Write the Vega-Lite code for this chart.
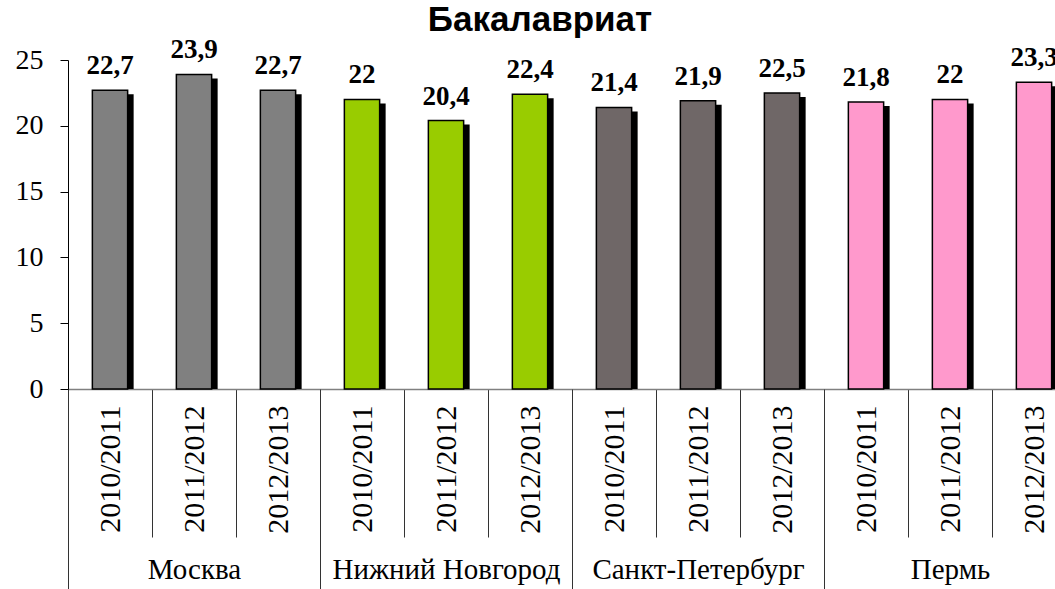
{
  "$schema": "https://vega.github.io/schema/vega-lite/v6.json",
  "autosize": {"type": "none"},
  "padding": {"left": 68, "top": 60, "right": 0, "bottom": 200},
  "width": 1008,
  "height": 329,
  "background": "white",
  "title": {"text": "Бакалавриат", "font": "Liberation Sans", "fontSize": 35, "fontWeight": "bold", "color": "black", "anchor": "middle", "frame": "group", "dx": -32, "dy": 36, "baseline": "alphabetic", "offset": 6},
  "config": {
    "view": {"stroke": null},
    "locale": {"number": {"decimal": ",", "thousands": " ", "grouping": [3], "currency": ["", ""]}}
  },
  "datasets": {
    "bars": [
      {"city": "Москва", "year": "2010/2011", "key": "Москва|2010/2011", "value": 22.7},
      {"city": "Москва", "year": "2011/2012", "key": "Москва|2011/2012", "value": 23.9},
      {"city": "Москва", "year": "2012/2013", "key": "Москва|2012/2013", "value": 22.7},
      {"city": "Нижний Новгород", "year": "2010/2011", "key": "Нижний Новгород|2010/2011", "value": 22},
      {"city": "Нижний Новгород", "year": "2011/2012", "key": "Нижний Новгород|2011/2012", "value": 20.4},
      {"city": "Нижний Новгород", "year": "2012/2013", "key": "Нижний Новгород|2012/2013", "value": 22.4},
      {"city": "Санкт-Петербург", "year": "2010/2011", "key": "Санкт-Петербург|2010/2011", "value": 21.4},
      {"city": "Санкт-Петербург", "year": "2011/2012", "key": "Санкт-Петербург|2011/2012", "value": 21.9},
      {"city": "Санкт-Петербург", "year": "2012/2013", "key": "Санкт-Петербург|2012/2013", "value": 22.5},
      {"city": "Пермь", "year": "2010/2011", "key": "Пермь|2010/2011", "value": 21.8},
      {"city": "Пермь", "year": "2011/2012", "key": "Пермь|2011/2012", "value": 22},
      {"city": "Пермь", "year": "2012/2013", "key": "Пермь|2012/2013", "value": 23.3}
    ],
    "cities": [
      {"city": "Москва"},
      {"city": "Нижний Новгород"},
      {"city": "Санкт-Петербург"},
      {"city": "Пермь"}
    ]
  },
  "layer": [
    {
      "data": {"name": "bars"},
      "layer": [
        {
          "mark": {"type": "bar", "color": "black", "xOffset": 6, "yOffset": 4, "width": {"band": 0.42}, "clip": true},
          "encoding": {
            "x": {"field": "key", "type": "nominal", "sort": null,
              "scale": {"paddingInner": 0, "paddingOuter": 0},
              "axis": {"orient": "bottom", "title": null, "domain": true, "domainColor": "#808080", "domainWidth": 1.5,
                "ticks": true, "tickColor": "#333333", "tickWidth": 1, "tickSize": 148, "tickBand": "extent",
                "labelExpr": "split(datum.value, '|')[1]", "labelAngle": -90, "labelFont": "Liberation Serif",
                "labelFontSize": 30, "labelColor": "black", "labelPadding": -132, "labelLimit": 0}},
            "y": {"field": "value", "type": "quantitative",
              "scale": {"domain": [0, 25], "nice": false},
              "axis": {"title": null, "values": [0, 5, 10, 15, 20, 25], "grid": false, "domainColor": "black", "domainWidth": 1,
                "tickColor": "black", "tickSize": 8, "labelFont": "Liberation Serif", "labelFontSize": 28,
                "labelColor": "black", "labelPadding": 17}}
          }
        },
        {
          "mark": {"type": "bar", "stroke": "black", "strokeWidth": 1.5, "width": {"band": 0.42}},
          "encoding": {
            "x": {"field": "key", "type": "nominal", "sort": null},
            "y": {"field": "value", "type": "quantitative"},
            "color": {"field": "city", "type": "nominal", "legend": null,
              "scale": {"domain": ["Москва", "Нижний Новгород", "Санкт-Петербург", "Пермь"],
                "range": ["#808080", "#99cc00", "#6f6767", "#ff99cc"]}}
          }
        },
        {
          "mark": {"type": "text", "font": "Liberation Serif", "fontSize": 27, "fontWeight": "bold", "baseline": "alphabetic", "dy": -16, "color": "black"},
          "encoding": {
            "x": {"field": "key", "type": "nominal", "sort": null},
            "y": {"field": "value", "type": "quantitative"},
            "text": {"field": "value", "type": "quantitative", "format": "~g"}
          }
        }
      ]
    },
    {
      "data": {"name": "cities"},
      "mark": {"type": "text", "opacity": 0},
      "encoding": {
        "x": {"field": "city", "type": "nominal", "sort": null,
          "scale": {"paddingInner": 0, "paddingOuter": 0},
          "axis": {"orient": "bottom", "title": null, "domain": false, "ticks": true, "tickColor": "#333333",
            "tickSize": 200, "tickBand": "extent", "labelAngle": 0, "labelFont": "Liberation Serif",
            "labelFontSize": 29, "labelColor": "black", "labelPadding": -11, "labelBaseline": "alphabetic", "labelLimit": 0}},
        "text": {"field": "city"}
      }
    }
  ],
  "resolve": {"scale": {"x": "independent"}}
}
